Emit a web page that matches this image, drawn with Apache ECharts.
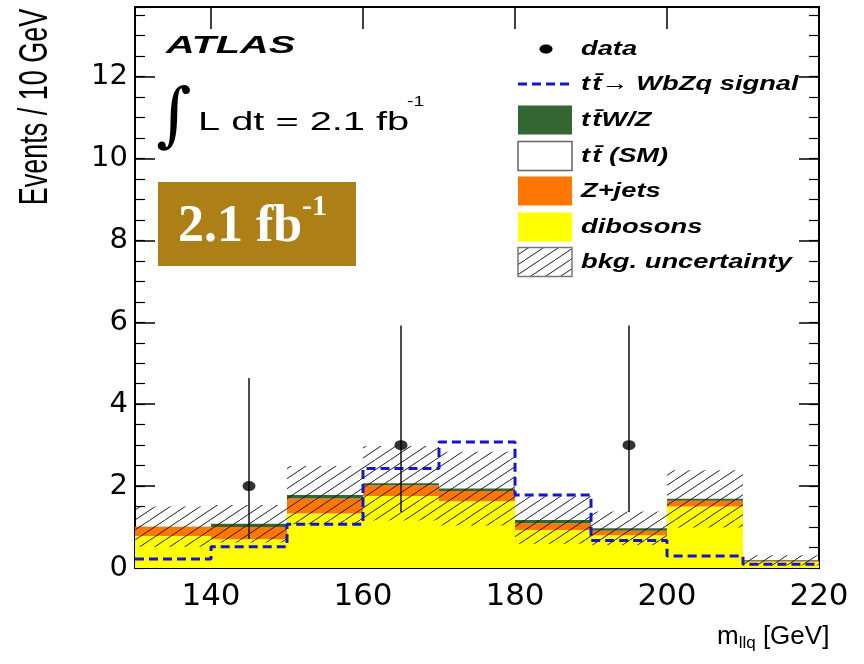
<!DOCTYPE html>
<html><head><meta charset="utf-8">
<script src="https://cdn.jsdelivr.net/npm/echarts@6/dist/echarts.min.js"></script>
<style>html,body{margin:0;padding:0;background:#fff}#c{width:864px;height:664px}</style>
</head><body><div id="c"></div>
<script>
// ---- data ----
const binEdges = [130, 140, 150, 160, 170, 180, 190, 200, 210, 220];
const dibosons = [0.78, 0.70, 1.33, 1.76, 1.63, 0.93, 0.80, 1.50, 0.15];
const zjets    = [0.22, 0.30, 0.37, 0.26, 0.25, 0.16, 0.11, 0.14, 0.02];
const ttSM     = [0, 0, 0, 0, 0, 0, 0, 0, 0];
const ttVZ     = [0.01, 0.08, 0.08, 0.05, 0.06, 0.08, 0.06, 0.05, 0.02];
const bkgUnc   = [0.49, 0.46, 0.71, 0.91, 0.90, 0.58, 0.41, 0.70, 0.12];
const signal   = [0.22, 0.52, 1.07, 2.43, 3.08, 1.78, 0.67, 0.29, 0.09];
const dataX    = [145, 165, 195];
const dataY    = [2, 3, 3];
const dataLow  = [0.71, 1.37, 1.37];
const dataHigh = [4.64, 5.92, 5.92];
const xTicks   = [140, 160, 180, 200, 220];

// ---- build ----
function makeHatchCanvas() {
  const c = document.createElement('canvas');
  c.width = 30; c.height = 20;
  const g = c.getContext('2d');
  g.strokeStyle = '#1c1c1c'; g.lineWidth = 1;
  for (let x0 = -45; x0 <= 30; x0 += 15) {
    g.beginPath(); g.moveTo(x0, 20); g.lineTo(x0 + 30, 0); g.stroke();
  }
  return c;
}
const hatchCanvas = makeHatchCanvas();
const hatchFill = () => ({ image: hatchCanvas, repeat: 'repeat' });

const TT = 't\u200At\u0304';
const comps = [dibosons, zjets, ttSM, ttVZ];
const compColors = ['#ffff00', '#ff7700', '#ffffff', '#336633'];
const compNames = ['dibosons', 'Z+jets', TT + ' (SM)', TT + 'W/Z'];
const cum = binEdges.slice(0, -1).map(() => 0);
const stackSeries = comps.map((arr, k) => {
  const rows = arr.map((v, i) => {
    const b = cum[i]; cum[i] = +(cum[i] + v).toFixed(4);
    return [binEdges[i], binEdges[i + 1], b, cum[i]];
  });
  const col = compColors[k];
  return {
    type: 'custom', name: compNames[k], data: rows, encode: { x: [0, 1], y: [2, 3] },
    z: 2 + k,
    renderItem(params, api) {
      const p0 = api.coord([api.value(0), api.value(3)]);
      const p1 = api.coord([api.value(1), api.value(2)]);
      return { type: 'rect', shape: { x: p0[0], y: p0[1], width: p1[0] - p0[0], height: p1[1] - p0[1] },
               style: { fill: col } };
    }
  };
});
const totals = cum.slice();
const uncRows = totals.map((t, i) => [binEdges[i], binEdges[i + 1], Math.max(0, t - bkgUnc[i]), t + bkgUnc[i]]);
const sigData = signal.map((v, i) => [binEdges[i], v]).concat([[binEdges[binEdges.length - 1], signal[signal.length - 1]]]);
const errRows = dataX.map((x, i) => [x, dataLow[i], dataHigh[i]]);
const ptRows = dataX.map((x, i) => [x, dataY[i]]);

const SANS = '"Liberation Sans", Arial, Helvetica, sans-serif';
const legendFont = 'italic bold 21px ' + SANS;
const legendRows = [
  { y: 49, text: 'data' },
  { y: 84, text: TT + '\u2192 WbZq signal' },
  { y: 120, text: TT + 'W/Z' },
  { y: 156, text: TT + ' (SM)' },
  { y: 191, text: 'Z+jets' },
  { y: 227, text: 'dibosons' },
  { y: 262, text: 'bkg. uncertainty' }
];
const graphics = [];
legendRows.forEach(r => {
  graphics.push({ type: 'text', x: 581, y: r.y, scaleX: 1.3, z: 100,
    style: { text: r.text, x: 0, y: 0, font: legendFont, fill: '#000', verticalAlign: 'middle', align: 'left' } });
});
graphics.push({ type: 'ellipse', z: 100, shape: { cx: 546, cy: 49, rx: 6.5, ry: 4.5 }, style: { fill: '#000' } });
graphics.push({ type: 'line', z: 100, shape: { x1: 518, y1: 84, x2: 572, y2: 84 },
  style: { stroke: '#1414d2', lineWidth: 3, lineDash: [9, 5] } });
const boxSpecs = [
  { y: 120, fill: '#336633', stroke: null },
  { y: 156, fill: '#ffffff', stroke: '#666' },
  { y: 191, fill: '#ff7700', stroke: null },
  { y: 227, fill: '#ffff00', stroke: null },
  { y: 262, fill: hatchFill(), stroke: '#777' }
];
boxSpecs.forEach(b => {
  graphics.push({ type: 'rect', z: 100, shape: { x: 518, y: b.y - 14.5, width: 54, height: 29 },
    style: { fill: b.fill, stroke: b.stroke, lineWidth: 1.5 } });
});
// ATLAS label & luminosity
graphics.push({ type: 'text', x: 166, y: 46, scaleX: 1.65, z: 100,
  style: { text: 'ATLAS', x: 0, y: 0, font: 'italic bold 24px ' + SANS, fill: '#000', verticalAlign: 'middle' } });
graphics.push({ type: 'text', x: 156, y: 120, scaleY: 1.03, z: 100,
  style: { text: '\u222B', x: 0, y: 0, font: '68px "DejaVu Serif", "DejaVu Sans", serif', fill: '#000', verticalAlign: 'middle' } });
graphics.push({ type: 'text', x: 198, y: 123, scaleX: 1.53, z: 100,
  style: { text: 'L dt = 2.1 fb', x: 0, y: 0, font: '26px ' + SANS, fill: '#000', verticalAlign: 'middle' } });
graphics.push({ type: 'text', x: 407, y: 102, scaleX: 1.3, z: 100,
  style: { text: '-1', x: 0, y: 0, font: '15px ' + SANS, fill: '#000', verticalAlign: 'middle' } });
// gold box
graphics.push({ type: 'rect', z: 100, shape: { x: 158, y: 182, width: 198, height: 84 }, style: { fill: '#ad7f17' } });
graphics.push({ type: 'text', x: 178, y: 228, z: 101,
  style: { text: '2.1 fb', x: 0, y: 0, font: 'bold 52px "Liberation Serif", "Times New Roman", serif', fill: '#fff', verticalAlign: 'middle' } });
graphics.push({ type: 'text', x: 302, y: 207, z: 101,
  style: { text: '-1', x: 0, y: 0, font: 'bold 30px "Liberation Serif", "Times New Roman", serif', fill: '#fff', verticalAlign: 'middle' } });
// axis titles
graphics.push({ type: 'text', x: 36, y: 107, rotation: Math.PI / 2, scaleY: 1.5, z: 100,
  style: { text: 'Events / 10 GeV', x: 0, y: 0, font: '27px ' + SANS, fill: '#000', align: 'center', verticalAlign: 'middle' } });
graphics.push({ type: 'text', x: 717, y: 637, scaleX: 1.0, z: 100,
  style: { text: '{m|m}{s|llq}{m| [GeV]}', x: 0, y: 0, fill: '#000', verticalAlign: 'middle',
    rich: { m: { font: '26px ' + SANS, fill: '#000' }, s: { font: '17px ' + SANS, fill: '#000', padding: [13, 0, 0, 0] } } } });

const yBase = { type: 'value', min: 0, max: 13.7, splitLine: { show: false },
  axisLine: { show: true, onZero: false, lineStyle: { color: '#000', width: 2 } } };
const option = {
  animation: false,
  backgroundColor: '#fff',
  grid: { left: 135, right: 45, top: 7, bottom: 96, containLabel: false },
  xAxis: [
    { type: 'value', min: 130, max: 220, position: 'bottom', splitLine: { show: false },
      axisLine: { show: true, onZero: false, lineStyle: { color: '#000', width: 2 } },
      axisTick: { show: true, inside: true, length: 18, customValues: xTicks, lineStyle: { color: '#000', width: 1.5 } },
      axisLabel: { customValues: xTicks, color: '#000', fontSize: 31, fontFamily: '"DejaVu Sans", sans-serif', margin: 13 } },
    { type: 'value', min: 130, max: 220, position: 'top', splitLine: { show: false },
      axisLine: { show: true, onZero: false, lineStyle: { color: '#000', width: 2 } },
      axisTick: { show: true, inside: true, length: 22, customValues: xTicks, lineStyle: { color: '#000', width: 1.5 } },
      axisLabel: { show: false } }
  ],
  yAxis: [
    Object.assign({}, yBase, { position: 'left', interval: 2,
      axisTick: { inside: true, length: 20, lineStyle: { color: '#000', width: 1.5 } },
      axisLabel: { color: '#000', fontSize: 29, fontFamily: '"DejaVu Sans", sans-serif', margin: 7, showMaxLabel: false } }),
    Object.assign({}, yBase, { position: 'left', interval: 0.5,
      axisTick: { inside: true, length: 10, lineStyle: { color: '#000', width: 1.2 } }, axisLabel: { show: false } }),
    Object.assign({}, yBase, { position: 'right', interval: 2,
      axisTick: { inside: true, length: 20, lineStyle: { color: '#000', width: 1.5 } }, axisLabel: { show: false } }),
    Object.assign({}, yBase, { position: 'right', interval: 0.5,
      axisTick: { inside: true, length: 10, lineStyle: { color: '#000', width: 1.2 } }, axisLabel: { show: false } })
  ],
  series: stackSeries.concat([
    { type: 'custom', name: 'bkg. uncertainty', data: uncRows, encode: { x: [0, 1], y: [2, 3] }, z: 10,
      renderItem(params, api) {
        const p0 = api.coord([api.value(0), api.value(3)]);
        const p1 = api.coord([api.value(1), api.value(2)]);
        return { type: 'rect', shape: { x: p0[0], y: p0[1], width: p1[0] - p0[0], height: p1[1] - p0[1] },
                 style: { fill: hatchFill() } };
      } },
    { type: 'line', name: 'signal', data: sigData, step: 'end', symbol: 'none', z: 12,
      lineStyle: { color: '#1414d2', width: 3, type: [9, 5] } },
    { type: 'custom', name: 'data err', data: errRows, encode: { x: 0, y: [1, 2] }, z: 14,
      renderItem(params, api) {
        const a = api.coord([api.value(0), api.value(1)]);
        const b = api.coord([api.value(0), api.value(2)]);
        return { type: 'line', shape: { x1: a[0], y1: a[1], x2: b[0], y2: b[1] }, style: { stroke: '#111', lineWidth: 1.5 } };
      } },
    { type: 'scatter', name: 'data', data: ptRows, symbol: 'circle', symbolSize: [13, 10], z: 15,
      itemStyle: { color: '#000' } }
  ]),
  graphic: graphics
};
const chart = echarts.init(document.getElementById('c'), null, { renderer: 'canvas' });
chart.setOption(option);
</script></body></html>
